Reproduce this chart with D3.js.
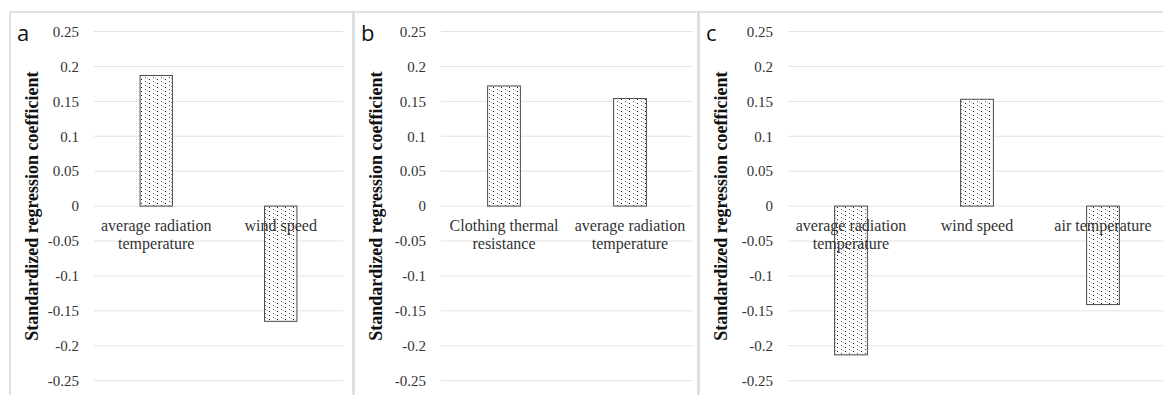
<!DOCTYPE html>
<html>
<head>
<meta charset="utf-8">
<script src="https://cdn.jsdelivr.net/npm/d3@7"></script>
<style>
  body { margin: 0; background: #fff; }
  svg { display: block; }
</style>
</head>
<body>
<svg id="chart" width="1163" height="395"></svg>
<script>
// data
const panelLetters = ['a', 'b', 'c'];
const categoriesA = [['average radiation', 'temperature'], ['wind speed']];
const valuesA = [0.187, -0.165];
const categoriesB = [['Clothing thermal', 'resistance'], ['average radiation', 'temperature']];
const valuesB = [0.172, 0.154];
const categoriesC = [['average radiation', 'temperature'], ['wind speed'], ['air temperature']];
const valuesC = [-0.213, 0.153, -0.141];
const yTicks = [0.25, 0.2, 0.15, 0.1, 0.05, 0, -0.05, -0.1, -0.15, -0.2, -0.25];
const yTitle = 'Standardized regression coefficient';

const svg = d3.select('#chart');
const serif = '"Liberation Serif", "Times New Roman", serif';

// dotted fill like the excel pattern
const defs = svg.append('defs');
const pat = defs.append('pattern')
  .attr('id', 'dots')
  .attr('patternUnits', 'userSpaceOnUse')
  .attr('width', 8)
  .attr('height', 4);
pat.append('rect').attr('width', 8).attr('height', 4).attr('fill', '#fff');
pat.append('rect').attr('x', 1).attr('y', 1).attr('width', 1).attr('height', 1).attr('fill', '#555');
pat.append('rect').attr('x', 5).attr('y', 3).attr('width', 1).attr('height', 1).attr('fill', '#222');
pat.append('rect').attr('x', 3).attr('y', 2).attr('width', 1).attr('height', 1).attr('fill', '#aaa');

const panels = [
  { letter: panelLetters[0], cats: categoriesA, vals: valuesA, box: [10, 353], plot: [94, 343] },
  { letter: panelLetters[1], cats: categoriesB, vals: valuesB, box: [354, 698], plot: [441, 693] },
  { letter: panelLetters[2], cats: categoriesC, vals: valuesC, box: [699, 1175], plot: [788, 1166] }
];

const y = d3.scaleLinear()
  .domain([-0.25, 0.25])
  .range([380.7, 31.5]);

panels.forEach(p => {
  const g = svg.append('g');

  // panel frame
  g.append('rect')
    .attr('x', p.box[0])
    .attr('y', 12)
    .attr('width', p.box[1] - p.box[0])
    .attr('height', 400)
    .attr('fill', 'none')
    .attr('stroke', '#d9d9d9')
    .attr('stroke-width', 1.5);

  const x = d3.scaleBand()
    .domain(d3.range(p.vals.length))
    .range(p.plot)
    .paddingInner(0.74)
    .paddingOuter(0.37);

  // gridlines
  g.append('g')
    .selectAll('line')
    .data(yTicks)
    .enter()
    .append('line')
    .attr('x1', p.plot[0])
    .attr('x2', Math.min(p.plot[1], 1163))
    .attr('y1', d => y(d))
    .attr('y2', d => y(d))
    .attr('stroke', '#e3e3e3')
    .attr('stroke-width', 1);

  // tick labels
  g.append('g')
    .selectAll('text')
    .data(yTicks)
    .enter()
    .append('text')
    .attr('x', p.plot[0] - 15)
    .attr('y', d => y(d))
    .attr('dy', '0.35em')
    .attr('text-anchor', 'end')
    .attr('font-family', serif)
    .attr('font-size', 15)
    .attr('fill', '#333')
    .text(d => d);

  // bars
  g.append('g')
    .selectAll('rect')
    .data(p.vals)
    .enter()
    .append('rect')
    .attr('x', (d, i) => x(i))
    .attr('width', x.bandwidth())
    .attr('y', d => y(Math.max(0, d)))
    .attr('height', d => Math.abs(y(d) - y(0)))
    .attr('fill', 'url(#dots)')
    .attr('stroke', '#4a4a40')
    .attr('stroke-width', 1);

  // category labels
  const labels = g.append('g')
    .selectAll('text')
    .data(p.cats)
    .enter()
    .append('text')
    .attr('x', (d, i) => x(i) + x.bandwidth() / 2)
    .attr('y', y(0) + 25)
    .attr('text-anchor', 'middle')
    .attr('font-family', serif)
    .attr('font-size', 16)
    .attr('fill', '#333');
  labels.selectAll('tspan')
    .data(d => d)
    .enter()
    .append('tspan')
    .attr('x', function () { return d3.select(this.parentNode).attr('x'); })
    .attr('dy', (d, i) => i === 0 ? 0 : 18)
    .text(d => d);

  // axis title
  g.append('text')
    .attr('transform', `translate(${p.box[0] + 22},${y(0)}) rotate(-90)`)
    .attr('dy', '0.35em')
    .attr('text-anchor', 'middle')
    .attr('font-family', serif)
    .attr('font-weight', 'bold')
    .attr('font-size', 18)
    .attr('fill', '#111')
    .text(yTitle);

  // panel letter
  g.append('text')
    .attr('x', p.box[0] + 7)
    .attr('y', 41)
    .attr('font-family', '"Open Sans", "Liberation Sans", sans-serif')
    .attr('font-size', 22)
    .attr('fill', '#111')
    .text(p.letter);
});
</script>
</body>
</html>
